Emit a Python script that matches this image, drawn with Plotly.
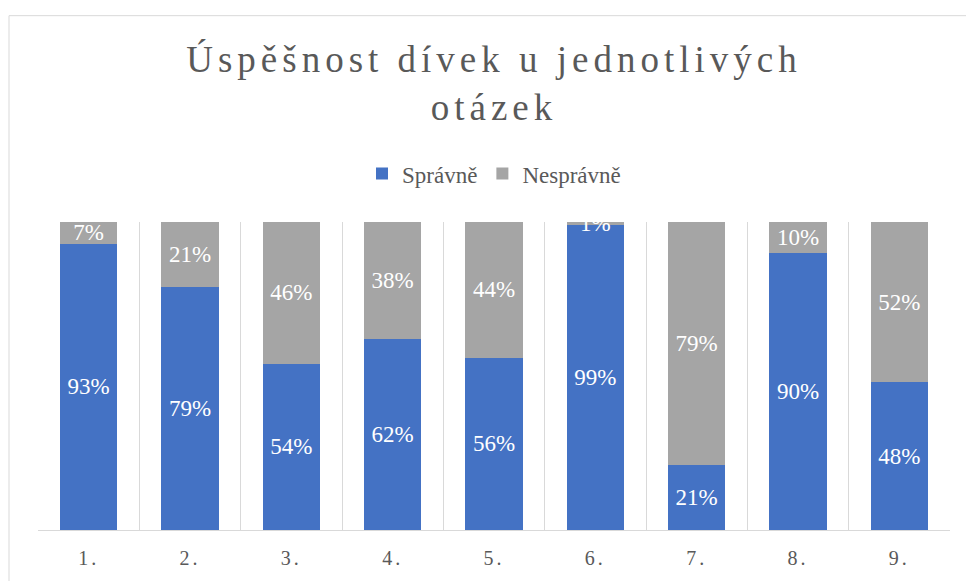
import plotly.graph_objects as go

categories = ["1.", "2.", "3.", "4.", "5.", "6.", "7.", "8.", "9."]
spravne = [93, 79, 54, 62, 56, 99, 21, 90, 48]
nespravne = [7, 21, 46, 38, 44, 1, 79, 10, 52]
series_names = ["Správně", "Nesprávně"]
title_text = "Úspěšnost dívek u jednotlivých<br>otázek"

W, H = 966, 581
ML, MR, MT, MB = 38, 16, 222, 47
PW, PH = W - ML - MR, H - MT - MB

FONT = "Liberation Serif"
TXT = "#595959"
GRID = "#d9d9d9"

fig = go.Figure()
fig.add_trace(go.Bar(
    x=categories, y=spravne, name=series_names[0],
    marker=dict(color="#4472C4", line=dict(width=0)),
    texttemplate="%{y}%", textposition="inside", insidetextanchor="middle",
    textangle=0, textfont=dict(color="white", size=23, family=FONT),
    cliponaxis=True,
))
fig.add_trace(go.Bar(
    x=categories, y=nespravne, name=series_names[1],
    marker=dict(color="#A5A5A5", line=dict(width=0)),
    texttemplate="%{y}%", textposition="inside", insidetextanchor="middle",
    textangle=0, textfont=dict(color="white", size=23, family=FONT),
    cliponaxis=True,
))

# outer chart frame (left and top edges visible)
fx = (9 - ML) / PW
fy = (H - MB - 13) / PH
shapes = [
    dict(type="line", xref="paper", yref="paper", x0=fx, x1=fx, y0=-1, y1=fy,
         line=dict(color=GRID, width=1), layer="below"),
    dict(type="line", xref="paper", yref="paper", x0=fx, x1=2, y0=fy, y1=fy,
         line=dict(color=GRID, width=1), layer="below"),
]

fig.update_layout(
    width=W, height=H,
    margin=dict(l=ML, r=MR, t=MT, b=MB, pad=0),
    paper_bgcolor="white", plot_bgcolor="white",
    barmode="stack", bargap=0.437,
    font=dict(family=FONT, color=TXT),
    title=dict(text=title_text, x=0.5, xref="paper", xanchor="center",
               y=1 - 72 / H, yref="container", yanchor="top",
               font=dict(size=37, color=TXT, family=FONT)),
    legend=dict(orientation="h", x=0.5, xanchor="center", xref="paper",
                y=(H - MB - 173) / PH, yanchor="middle",
                font=dict(size=23, color=TXT, family=FONT),
                itemwidth=30, traceorder="normal"),
    uniformtext=dict(minsize=23, mode="show"),
    xaxis=dict(type="category", tickson="boundaries", showgrid=True,
               gridcolor=GRID, gridwidth=1, showline=True, linecolor=GRID,
               linewidth=1, ticks="", tickfont=dict(size=20, color=TXT, family=FONT),
               ticklabelstandoff=10, zeroline=False),
    yaxis=dict(range=[0, 100], visible=False, showgrid=False, zeroline=False),
    shapes=shapes,
    hovermode=False,
)

post = """
document.body.style.margin = '0';
document.body.style.padding = '0';
var gd = document.getElementById('{plot_id}');
function ls(){
  gd.querySelectorAll('.gtitle').forEach(function(t){t.style.letterSpacing='5px';});
  gd.querySelectorAll('.xtick text').forEach(function(t){t.style.letterSpacing='3px';});
}
ls(); setTimeout(ls, 50); setTimeout(ls, 300);
"""
fig.write_html("out.html", post_script=post, config={"displayModeBar": False})
